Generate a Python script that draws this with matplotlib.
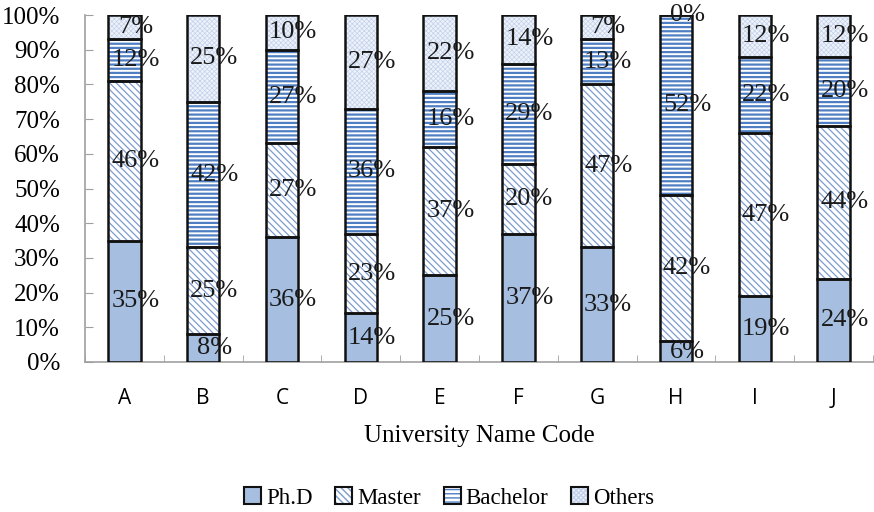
import matplotlib
matplotlib.use("Agg")
import matplotlib.pyplot as plt
from matplotlib.patches import Patch
from matplotlib.legend_handler import HandlerTuple
import numpy as np

universities = ["A", "B", "C", "D", "E", "F", "G", "H", "I", "J"]
phd = [35, 8, 36, 14, 25, 37, 33, 6, 19, 24]
master = [46, 25, 27, 23, 37, 20, 47, 42, 47, 44]
bachelor = [12, 42, 27, 36, 16, 29, 13, 52, 22, 20]
others = [7, 25, 10, 27, 22, 14, 7, 0, 12, 12]
series_names = ["Ph.D", "Master", "Bachelor", "Others"]
y_ticks = [0, 10, 20, 30, 40, 50, 60, 70, 80, 90, 100]

serif = "Liberation Serif"
styles = [
    dict(face="#a6bee0", hatch=None, hcolor="#a6bee0", hlw=1.0),
    dict(face="white", hatch="\\\\\\\\\\", hcolor="#7d9ccf", hlw=0.9),
    dict(face="white", hatch="----", hcolor="#4f7fc2", hlw=1.6),
    dict(face="#eef2fa", hatch="xxxxxxx", hcolor="#c3d2ea", hlw=0.5),
]

fig = plt.figure(figsize=(8.74, 5.12), dpi=100)
ax = fig.add_axes([85 / 874, 1 - 362 / 512, 788 / 874, 347 / 512])

x = np.arange(len(universities))
width = 0.41
bottom = np.zeros(len(universities))
for vals, st in zip([phd, master, bachelor, others], styles):
    vals = np.array(vals, dtype=float)
    with plt.rc_context({"hatch.linewidth": st["hlw"]}):
        ax.bar(x, vals, width, bottom=bottom, color=st["face"],
               hatch=st["hatch"], edgecolor=st["hcolor"], linewidth=0, zorder=2)
    ax.bar(x, vals, width, bottom=bottom, facecolor="none",
           edgecolor="#111111", linewidth=1.8, zorder=3)
    for xi, b, v in zip(x, bottom, vals):
        ax.text(xi + 0.14, b + v / 2, f"{int(v)}%", ha="center", va="center",
                fontsize=19, family=serif, color="#1a1a1a", zorder=4)
    bottom += vals

ax.set_xlim(-0.5, 9.5)
ax.set_ylim(0, 100)
ax.set_yticks(y_ticks)
ax.set_yticklabels([f"{t}%" for t in y_ticks], fontsize=18, family=serif)
ax.set_xticks(x)
ax.set_xticklabels(universities, fontsize=15, family="Open Sans")
ax.set_xticks(np.arange(-0.5, 10, 1), minor=True)
ax.tick_params(axis="x", which="major", length=0, pad=19)
ax.tick_params(axis="x", which="minor", direction="in", length=5, color="#a0a0a0")
ax.tick_params(axis="y", direction="in", length=6, color="#a0a0a0", pad=18)

for side in ["top", "right"]:
    ax.spines[side].set_visible(False)
for side in ["left", "bottom"]:
    ax.spines[side].set_color("#a0a0a0")
    ax.spines[side].set_linewidth(1.2)

ax.set_xlabel("University Name Code", fontsize=18, family=serif, labelpad=11)

handles = []
for st in styles:
    with plt.rc_context({"hatch.linewidth": st["hlw"]}):
        fill = Patch(facecolor=st["face"], hatch=st["hatch"],
                     edgecolor=st["hcolor"], linewidth=0)
    edge = Patch(facecolor="none", edgecolor="#111111", linewidth=1.5)
    handles.append((fill, edge))

fig.legend(handles, series_names, handler_map={tuple: HandlerTuple(ndivide=1)},
           loc="center", bbox_to_anchor=(449 / 874, 1 - 498 / 512), ncol=4,
           frameon=False, handlelength=0.75, handleheight=0.75,
           handletextpad=0.2, columnspacing=1.0,
           prop={"family": serif, "size": 16.5})

fig.savefig("out.png", dpi=100)
